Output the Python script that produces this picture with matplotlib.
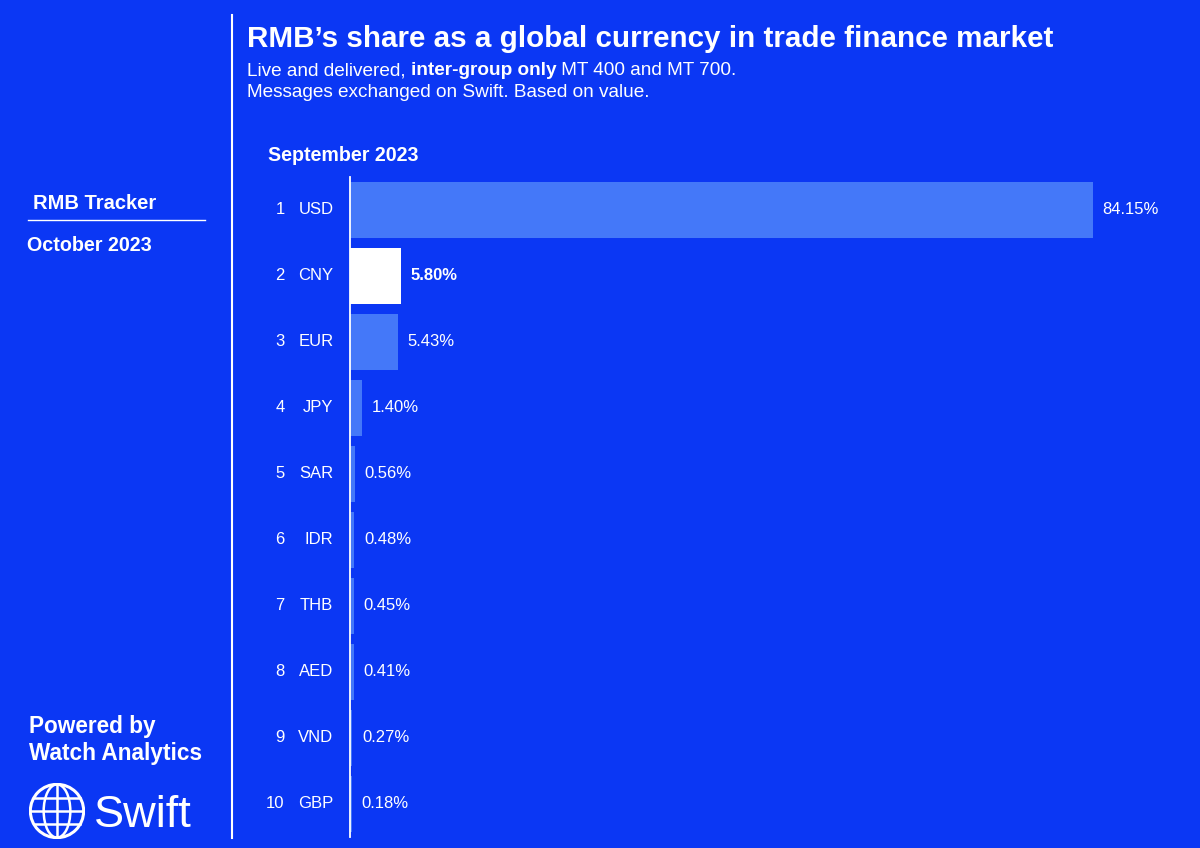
import matplotlib.pyplot as plt
from matplotlib.patches import Circle, Ellipse
from matplotlib.lines import Line2D

plt.rcParams['font.family'] = ['Liberation Sans', 'DejaVu Sans']

# data
ranks = [1, 2, 3, 4, 5, 6, 7, 8, 9, 10]
currencies = ["USD", "CNY", "EUR", "JPY", "SAR", "IDR", "THB", "AED", "VND", "GBP"]
shares = [84.15, 5.80, 5.43, 1.40, 0.56, 0.48, 0.45, 0.41, 0.27, 0.18]
highlight = "CNY"

bg = "#0B37F4"
bar_col = "#4478F9"
white = "white"

W, H = 1200, 848
fig = plt.figure(figsize=(12, 8.48), dpi=100, facecolor=bg)


def fy(px):
    # pixel row from top -> figure fraction
    return 1 - px / H


# main bar axes
ax = fig.add_axes([350 / W, fy(837), 800 / W, (837 - 177) / H])
ax.set_facecolor(bg)
ypos = list(range(len(currencies)))
colors = [white if c == highlight else bar_col for c in currencies]
ax.barh(ypos, shares, height=0.86, color=colors)
ax.set_xlim(0, 800 / (743 / 84.15))
ax.set_ylim(9.5, -0.5)
for s in ["top", "right", "bottom"]:
    ax.spines[s].set_visible(False)
ax.spines["left"].set_color(white)
ax.spines["left"].set_linewidth(1.3)
ax.set_xticks([])
ax.set_yticks([])

for y, r, c, v in zip(ypos, ranks, currencies, shares):
    ax.annotate(str(r), xy=(0, y), xycoords=("axes fraction", "data"),
                xytext=(-47, 0), textcoords="offset points",
                ha="right", va="center", color=white, fontsize=12)
    ax.annotate(c, xy=(0, y), xycoords=("axes fraction", "data"),
                xytext=(-12, 0), textcoords="offset points",
                ha="right", va="center", color=white, fontsize=12)
    ax.annotate(f"{v:.2f}%", xy=(v, y), xytext=(7, 0), textcoords="offset points",
                ha="left", va="center", color=white, fontsize=12,
                fontweight="bold" if c == highlight else "normal")

# title block
fig.text(247 / W, fy(47), "RMB\u2019s share as a global currency in trade finance market",
         ha="left", va="baseline", color=white, fontsize=21.3, fontweight="bold")

# mixed-weight subtitle line, pieces placed one after another on the same baseline
renderer = fig.canvas.get_renderer()
x = 247 / W
for part, weight in [("Live and delivered, ", "normal"),
                     ("inter-group only", "bold"),
                     (" MT 400 and MT 700.", "normal")]:
    t = fig.text(x, fy(75), part, ha="left", va="baseline", color=white,
                 fontsize=13.7, fontweight=weight)
    bb = t.get_window_extent(renderer)
    x = bb.x1 / (W)

fig.text(247 / W, fy(97), "Messages exchanged on Swift. Based on value.",
         ha="left", va="baseline", color=white, fontsize=13.7)
fig.text(268 / W, fy(161), "September 2023", ha="left", va="baseline",
         color=white, fontsize=14.1, fontweight="bold")

# left panel
fig.add_artist(Line2D([232 / W, 232 / W], [fy(15), fy(838)], color=white, lw=1.5))
fig.text(33 / W, fy(209), "RMB Tracker", ha="left", va="baseline",
         color=white, fontsize=14.5, fontweight="bold")
fig.add_artist(Line2D([28 / W, 205 / W], [fy(220), fy(220)], color=white, lw=1))
fig.text(27 / W, fy(251), "October 2023", ha="left", va="baseline",
         color=white, fontsize=14.2, fontweight="bold")
fig.text(29 / W, fy(733), "Powered by", ha="left", va="baseline",
         color=white, fontsize=16.3, fontweight="bold")
fig.text(29 / W, fy(760), "Watch Analytics", ha="left", va="baseline",
         color=white, fontsize=16.3, fontweight="bold")
fig.text(94 / W, fy(827), "Swift", ha="left", va="baseline",
         color=white, fontsize=32.5)

# globe icon
gx = fig.add_axes([29 / W, fy(839), 56 / W, 56 / H])
gx.set_xlim(-1.05, 1.05)
gx.set_ylim(-1.05, 1.05)
gx.set_aspect("equal")
gx.axis("off")
gx.add_patch(Circle((0, 0), 1, fill=False, ec=white, lw=2.2))
gx.add_patch(Ellipse((0, 0), 1.0, 2, fill=False, ec=white, lw=1.8))
gx.plot([0, 0], [-1, 1], color=white, lw=1.8)
for yy in [-0.5, 0, 0.5]:
    half = (1 - yy ** 2) ** 0.5
    gx.plot([-half, half], [yy, yy], color=white, lw=1.8)

fig.savefig("out.png", dpi=100, facecolor=bg)
